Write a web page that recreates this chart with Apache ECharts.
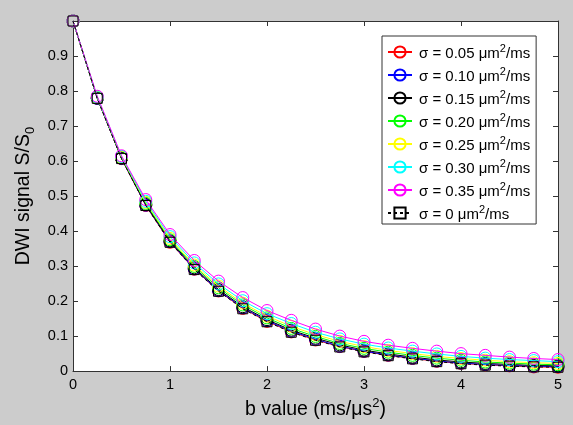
<!DOCTYPE html>
<html>
<head>
<meta charset="utf-8">
<script src="https://cdn.jsdelivr.net/npm/echarts@6/dist/echarts.min.js"></script>
<style>
  html, body { margin: 0; padding: 0; background: #cccccc; }
  #chart { width: 573px; height: 425px; }
</style>
</head>
<body>
<div id="chart"></div>
<script>
// b values (ms/µs²)
const bValues = [0, 0.25, 0.5, 0.75, 1, 1.25, 1.5, 1.75, 2, 2.25, 2.5, 2.75, 3, 3.25, 3.5, 3.75, 4, 4.25, 4.5, 4.75, 5];

// normalised DWI signal S/S0 for each spread sigma of the diffusivity
const sig005 = [1, 0.779, 0.607, 0.473, 0.368, 0.291, 0.229, 0.179, 0.142, 0.112, 0.089, 0.070, 0.056, 0.045, 0.036, 0.028, 0.022, 0.018, 0.015, 0.012, 0.011];
const sig010 = [1, 0.779, 0.608, 0.474, 0.370, 0.292, 0.230, 0.181, 0.144, 0.114, 0.091, 0.071, 0.057, 0.046, 0.037, 0.029, 0.023, 0.019, 0.016, 0.014, 0.013];
const sig015 = [1, 0.780, 0.608, 0.476, 0.372, 0.295, 0.233, 0.184, 0.147, 0.117, 0.094, 0.075, 0.060, 0.049, 0.040, 0.032, 0.026, 0.022, 0.019, 0.016, 0.015];
const sig020 = [1, 0.781, 0.610, 0.479, 0.375, 0.299, 0.238, 0.189, 0.152, 0.122, 0.099, 0.079, 0.065, 0.054, 0.045, 0.037, 0.031, 0.026, 0.023, 0.020, 0.018];
const sig025 = [1, 0.782, 0.611, 0.482, 0.379, 0.303, 0.243, 0.194, 0.157, 0.128, 0.104, 0.085, 0.070, 0.059, 0.050, 0.042, 0.036, 0.031, 0.027, 0.024, 0.022];
const sig030 = [1, 0.783, 0.613, 0.485, 0.384, 0.309, 0.249, 0.201, 0.164, 0.136, 0.111, 0.092, 0.077, 0.066, 0.057, 0.049, 0.042, 0.037, 0.033, 0.030, 0.027];
const sig035 = [1, 0.785, 0.615, 0.490, 0.390, 0.316, 0.257, 0.210, 0.173, 0.145, 0.120, 0.100, 0.085, 0.074, 0.065, 0.057, 0.050, 0.045, 0.040, 0.036, 0.033];
const sig000 = [1, 0.779, 0.607, 0.473, 0.368, 0.290, 0.228, 0.178, 0.141, 0.111, 0.088, 0.069, 0.055, 0.044, 0.035, 0.027, 0.021, 0.017, 0.014, 0.012, 0.011];

const sigmaLabels = ['0.05', '0.10', '0.15', '0.20', '0.25', '0.30', '0.35', '0'];
const sigmaColors = ['#ff0000', '#0000ff', '#000000', '#00ff00', '#ffff00', '#00ffff', '#ff00ff', '#000000'];
const sigmaSeries = [sig005, sig010, sig015, sig020, sig025, sig030, sig035, sig000];

const FONT = '"Liberation Sans", Arial, sans-serif';

function seriesName(i) {
  return 'σ = ' + sigmaLabels[i] + ' μm²/ms';
}

const series = sigmaSeries.map(function (vals, i) {
  const isRef = i === sigmaSeries.length - 1;
  const c = sigmaColors[i];
  return {
    name: seriesName(i),
    type: 'line',
    data: bValues.map(function (b, k) { return [b, vals[k]]; }),
    symbol: isRef ? 'rect' : 'circle',
    symbolSize: isRef ? 10 : 12,
    color: c,
    lineStyle: { color: c, width: 1, type: isRef ? [3, 3] : 'solid' },
    itemStyle: { color: 'rgba(0,0,0,0)', borderColor: c, borderWidth: 1 },
    emphasis: { disabled: true },
    animation: false,
    z: 2 + i
  };
});

const axisLineStyle = { color: '#333333', width: 1 };

const chart = echarts.init(document.getElementById('chart'), null, { renderer: 'canvas' });
chart.setOption({
  backgroundColor: '#cccccc',
  animation: false,
  textStyle: { fontFamily: FONT },
  grid: {
    left: 73, right: 15, top: 21, bottom: 46,
    show: true, backgroundColor: '#ffffff', borderWidth: 0
  },
  legend: {
    orient: 'vertical',
    left: 382, top: 36,
    padding: [7, 6, 2, 5],
    itemGap: 5,
    itemWidth: 24,
    itemHeight: 14,
    backgroundColor: '#ffffff',
    borderColor: '#333333',
    borderWidth: 1,
    borderRadius: 0,
    selectedMode: false,
    data: sigmaSeries.map(function (v, i) { return seriesName(i); }),
    formatter: function (name) {
      const parts = name.split('²');
      return '{t|' + parts[0] + '}{s|2}{t|' + parts[1] + '}';
    },
    textStyle: {
      color: '#000000',
      fontFamily: FONT,
      fontSize: 15,
      padding: [0, 0, 0, 2],
      rich: {
        t: { fontSize: 15, fontFamily: FONT, color: '#000', lineHeight: 18, verticalAlign: 'bottom' },
        s: { fontSize: 11, fontFamily: FONT, color: '#000', lineHeight: 18, verticalAlign: 'top' }
      }
    }
  },
  xAxis: [{
    type: 'value', min: 0, max: 5, interval: 1,
    position: 'bottom',
    name: '{n|b value (ms/μs}{s|2}{n|)}',
    nameLocation: 'middle',
    nameGap: 20,
    nameTextStyle: {
      rich: {
        n: { fontSize: 19.5, fontFamily: FONT, color: '#000', lineHeight: 23, verticalAlign: 'bottom' },
        s: { fontSize: 13, fontFamily: FONT, color: '#000', lineHeight: 23, verticalAlign: 'top' }
      }
    },
    axisLine: { show: true, onZero: false, lineStyle: axisLineStyle },
    axisTick: { show: true, inside: true, length: 5, lineStyle: axisLineStyle },
    axisLabel: { color: '#000', fontSize: 14.5, fontFamily: FONT, margin: 6 },
    splitLine: { show: false }
  }, {
    type: 'value', min: 0, max: 5, interval: 1,
    position: 'top',
    axisLine: { show: true, onZero: false, lineStyle: axisLineStyle },
    axisTick: { show: true, inside: true, length: 5, lineStyle: axisLineStyle },
    axisLabel: { show: false },
    splitLine: { show: false }
  }],
  yAxis: [{
    type: 'value', min: 0, max: 1, interval: 0.1,
    position: 'left',
    name: '{n|DWI signal S/S}{b|0}',
    nameLocation: 'middle',
    nameRotate: 90,
    nameGap: 36,
    nameTextStyle: {
      rich: {
        n: { fontSize: 19.5, fontFamily: FONT, color: '#000', lineHeight: 23, verticalAlign: 'top' },
        b: { fontSize: 13, fontFamily: FONT, color: '#000', lineHeight: 23, verticalAlign: 'bottom' }
      }
    },
    axisLine: { show: true, onZero: false, lineStyle: axisLineStyle },
    axisTick: { show: true, inside: true, length: 5, lineStyle: axisLineStyle },
    axisLabel: {
      color: '#000', fontSize: 14.5, fontFamily: FONT, margin: 5,
      formatter: function (v) {
        if (v >= 0.999) return '';
        return v === 0 ? '0' : v.toFixed(1);
      }
    },
    splitLine: { show: false }
  }, {
    type: 'value', min: 0, max: 1, interval: 0.1,
    position: 'right',
    axisLine: { show: true, onZero: false, lineStyle: axisLineStyle },
    axisTick: { show: true, inside: true, length: 5, lineStyle: axisLineStyle },
    axisLabel: { show: false },
    splitLine: { show: false }
  }],
  series: series
});
</script>
</body>
</html>
